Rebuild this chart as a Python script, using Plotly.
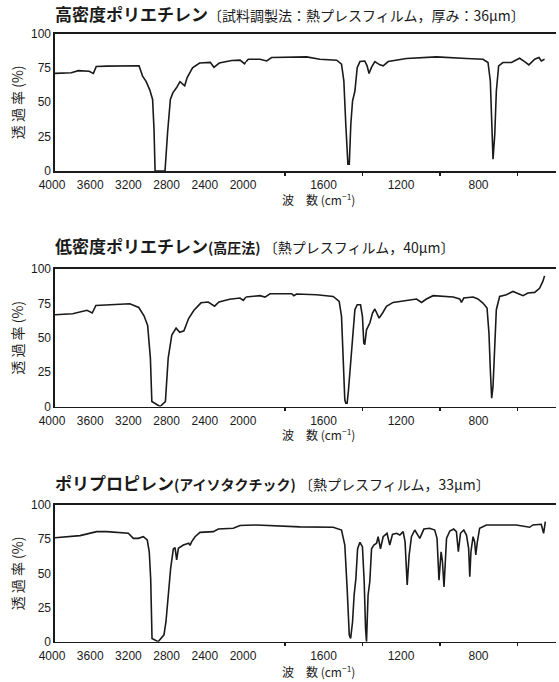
import plotly.graph_objects as go

# ---------------- data (wavenumber cm-1, transmittance %) ----------------
hdpe_wn = [4000, 3830, 3755, 3643, 3598, 3568, 3456, 3300, 3120, 3083, 3045, 3008, 2978, 2963,
           2952, 2900, 2848, 2821, 2792, 2765, 2728, 2691, 2665, 2642, 2616, 2560, 2486, 2374,
           2336, 2280, 2150, 2063, 2015, 2000, 1988, 1928, 1893, 1868, 1773, 1687, 1619, 1532,
           1507, 1495, 1485, 1474, 1467, 1459, 1450, 1438, 1426, 1412, 1387, 1375, 1365, 1353,
           1335, 1309, 1292, 1266, 1172, 1017, 862, 777, 751, 739, 730, 725, 716, 708, 696, 674,
           630, 588, 562, 540, 510, 488, 476, 459]
hdpe_t = [71, 71.5, 73, 72.5, 71, 76, 76.3, 76.6, 76.5, 69, 65, 59, 52, 30,
          0, 0, 0, 28, 52, 57, 60.5, 65, 63.5, 62, 68, 75, 78.5, 79,
          75.4, 78.5, 80.4, 80.6, 78, 79.5, 81.3, 81.3, 80, 82.5, 83, 83, 81.3, 80.6,
          77.7, 65.5, 34, 4.9, 4.9, 34, 51, 58, 75.2, 79.6, 80, 76.5, 70.9, 75.2,
          79.6, 77.2, 76.5, 79.6, 81.8, 83, 81.8, 81.3, 78.9, 65.5, 29, 8.5, 26.7, 58, 76.5, 78.9,
          78.9, 82, 79.6, 77.2, 81.3, 82.5, 80, 81.3]

ldpe_wn = [4000, 3815, 3665, 3610, 3572, 3330, 3217, 3123, 3068, 3030, 3001, 2986, 2900, 2844,
           2815, 2777, 2732, 2694, 2650, 2601, 2545, 2471, 2396, 2329, 2283, 2171, 2063, 2028,
           2000, 1928, 1902, 1876, 1764, 1753, 1739, 1636, 1550, 1519, 1507, 1498, 1490, 1485,
           1478, 1471, 1460, 1450, 1438, 1426, 1409, 1399, 1392, 1387, 1378, 1361, 1347, 1335,
           1323, 1313, 1295, 1275, 1241, 1172, 1120, 1094, 1069, 1034, 931, 897, 888, 876, 828,
           803, 777, 756, 746, 739, 732, 725, 716, 708, 691, 656, 622, 596, 570, 545, 510, 485,
           468, 459]
ldpe_t = [66.7, 67.5, 70, 68, 73.5, 74, 74.7, 72, 66, 59, 35, 3.6, 0, 3.6,
          35, 52, 57, 54, 55, 64, 70, 75.4, 76, 73, 76, 78, 78.9, 77.2,
          79.6, 80.6, 79.6, 82, 82, 80.6, 81.8, 81.3, 80, 76.5, 65.5, 38.8, 4.9, 2.4,
          2.4, 12, 34, 53, 70.4, 74, 74, 65.5, 46, 45, 55.8, 60.7, 68, 70.9,
          66.7, 64.3, 68, 72.8, 75.7, 77.2, 78.2, 75.7, 78.2, 80.6, 79.6, 78.2, 75.7, 78.9, 79.6,
          78.2, 75.2, 71.6, 53.4, 26.7, 6, 14.6, 46, 70.4, 80, 81.3, 83.7, 82, 80.6, 82.5, 83, 86,
          91, 95]

pp_wn = [4000, 3878, 3738, 3564, 3459, 3232, 3180, 3128, 3075, 3034, 3013, 2998, 2984, 2920,
         2859, 2838, 2814, 2789, 2761, 2743, 2726, 2708, 2656, 2600, 2586, 2570, 2534, 2482,
         2342, 2290, 2133, 2063, 2000, 1945, 1722, 1550, 1507, 1490, 1478, 1467, 1460, 1450,
         1442, 1433, 1424, 1412, 1399, 1390, 1383, 1378, 1370, 1361, 1352, 1340, 1326, 1318,
         1306, 1292, 1272, 1258, 1244, 1223, 1206, 1189, 1179, 1168, 1158, 1146, 1129, 1103,
         1082, 1052, 1026, 1014, 1004, 993, 986, 978, 965, 948, 928, 914, 904, 893, 876, 862,
         851, 845, 839, 828, 820, 814, 806, 794, 759, 605, 536, 519, 476, 464, 455]
pp_t = [76, 76.8, 77.6, 80.5, 80.5, 79.3, 75.6, 75.6, 76.8, 74.4, 65.8, 46, 2.4, 0,
        5, 14.6, 34, 53.7, 67.8, 68.8, 59.8, 68.3, 70.7, 72, 70.5, 73, 76.8, 80,
        80.5, 82.4, 83, 85, 85.2, 85.4, 84, 83.7, 81.7, 70.7, 39, 4.9, 2.4, 14.6,
        34, 46, 68, 72.7, 69.5, 44, 9.8, 0, 34, 44, 68, 70.7, 72, 76.8,
        68, 76.8, 79.3, 70.7, 78.5, 79.3, 78, 80.5, 73, 41.5, 63.4, 76.8, 81.7, 75.6,
        82.4, 83, 81.7, 75.6, 45, 65.8, 58.5, 40, 75.6, 81, 82.4, 80.5, 65.8, 79.3, 81.7, 78,
        68.3, 47.6, 65.8, 76.8, 73, 63.4, 73, 83, 85.4, 85.4, 83.7, 85.4, 85.9, 79.3, 87.8]

titles = [
    ("高密度ポリエチレン", "", "〔試料調製法：熱プレスフィルム，厚み：36µm〕"),
    ("低密度ポリエチレン", "(高圧法)", " 〔熱プレスフィルム，40µm〕"),
    ("ポリプロピレン", "(アイソタクチック)", " 〔熱プレスフィルム，33µm〕"),
]
left_ticks = [4000, 3600, 3200, 2800, 2400, 2000]
right_ticks = [1600, 1200, 800]
right_minor = [1800, 1400, 1000, 600]
y_ticks = [0, 25, 50, 75, 100]

spectra = [(hdpe_wn, hdpe_t), (ldpe_wn, ldpe_t), (pp_wn, pp_t)]
for w, t in spectra:
    assert len(w) == len(t)

# ---------------- layout geometry ----------------
W, H = 559, 682
def px_x(p): return p / W
def px_y(p): return 1 - p / H

x_left = px_x(55)
x_break = px_x(246)
x_right = px_x(556)
panels = [
    dict(top=33.5, bot=171, title=14, xtitle=199),
    dict(top=269, bot=406.5, title=245, xtitle=434),
    dict(top=505, bot=641.7, title=482, xtitle=671),
]

NUM_FONT = "Liberation Sans"
JP_FONT = "Noto Sans CJK JP"
INK = "#1a1a1a"

fig = go.Figure()
layout = dict(
    width=W, height=H,
    margin=dict(l=0, r=0, t=0, b=0, autoexpand=False),
    paper_bgcolor="white", plot_bgcolor="white",
    showlegend=False,
    annotations=[],
)

for i, ((w, t), pan) in enumerate(zip(spectra, panels)):
    xl = 2 * i + 1
    xr = 2 * i + 2
    yi = i + 1
    wl = [a for a in w if a >= 2000]
    tl = [b for a, b in zip(w, t) if a >= 2000]
    wr = [a for a in w if a <= 2000]
    tr = [b for a, b in zip(w, t) if a <= 2000]
    line = dict(color=INK, width=1.6)
    fig.add_trace(go.Scatter(x=wl, y=tl, mode="lines", line=line,
                             xaxis=f"x{xl}", yaxis=f"y{yi}", hoverinfo="skip"))
    fig.add_trace(go.Scatter(x=wr, y=tr, mode="lines", line=line,
                             xaxis=f"x{xr}", yaxis=f"y{yi}", hoverinfo="skip"))
    ydom = [px_y(pan["bot"]), px_y(pan["top"])]
    common_x = dict(showline=True, linecolor=INK, linewidth=1.6, mirror=True,
                    ticks="", showgrid=False, automargin=False,
                    zeroline=False, tickfont=dict(family=NUM_FONT, size=12, color=INK),
                    ticklabelstandoff=2, anchor=f"y{yi}")
    layout[f"xaxis{xl}"] = dict(common_x, domain=[x_left, x_break], range=[4000, 2000],
                                tickmode="array", tickvals=left_ticks,
                                ticktext=[str(v) for v in left_ticks],
                                ticklabelshift=3)
    layout[f"xaxis{xr}"] = dict(common_x, domain=[x_break, x_right], range=[2000, 400],
                                tickmode="array", tickvals=right_ticks,
                                ticktext=[str(v) for v in right_ticks],
                                minor=dict(tickmode="array", tickvals=right_minor,
                                           ticks="outside", ticklen=3, tickcolor=INK,
                                           tickwidth=1.5, showgrid=False))
    layout[f"yaxis{yi}"] = dict(domain=ydom, range=[0, 100], anchor=f"x{xl}",
                                showline=True, linecolor=INK, linewidth=1.6,
                                ticks="", showgrid=False, zeroline=False,
                                automargin=False,
                                tickmode="array", tickvals=y_ticks,
                                tickfont=dict(family=NUM_FONT, size=12, color=INK))
    main, sub, paren = titles[i]
    txt = f"<b>{main}</b>"
    if sub:
        txt += f"<b><span style='font-size:14px'>{sub}</span></b>"
    txt += f"<span style='font-size:14px'>{paren}</span>"
    layout["annotations"].append(dict(
        text=txt, xref="paper", yref="paper", x=px_x(53), y=px_y(pan["title"]),
        xanchor="left", yanchor="middle", showarrow=False,
        font=dict(family=JP_FONT, size=17, color=INK)))
    layout["annotations"].append(dict(
        text="波　数 (cm<sup>−1</sup>)",
        xref="paper", yref="paper", x=px_x(318), y=px_y(pan["xtitle"]),
        xanchor="center", yanchor="middle", showarrow=False,
        font=dict(family=JP_FONT, size=12, color=INK)))
    layout["annotations"].append(dict(
        text="透 過 率 (%)", xref="paper", yref="paper", x=px_x(17),
        y=(ydom[0] + ydom[1]) / 2, xanchor="center", yanchor="middle",
        textangle=-90, showarrow=False,
        font=dict(family=JP_FONT, size=14, color=INK)))

fig.update_layout(**layout)
fig.write_html(
    "out.html",
    config={"displayModeBar": False, "staticPlot": True},
    post_script="document.documentElement.style.margin='0';"
                "document.body.style.margin='0';"
                "document.body.style.overflow='hidden';",
)
